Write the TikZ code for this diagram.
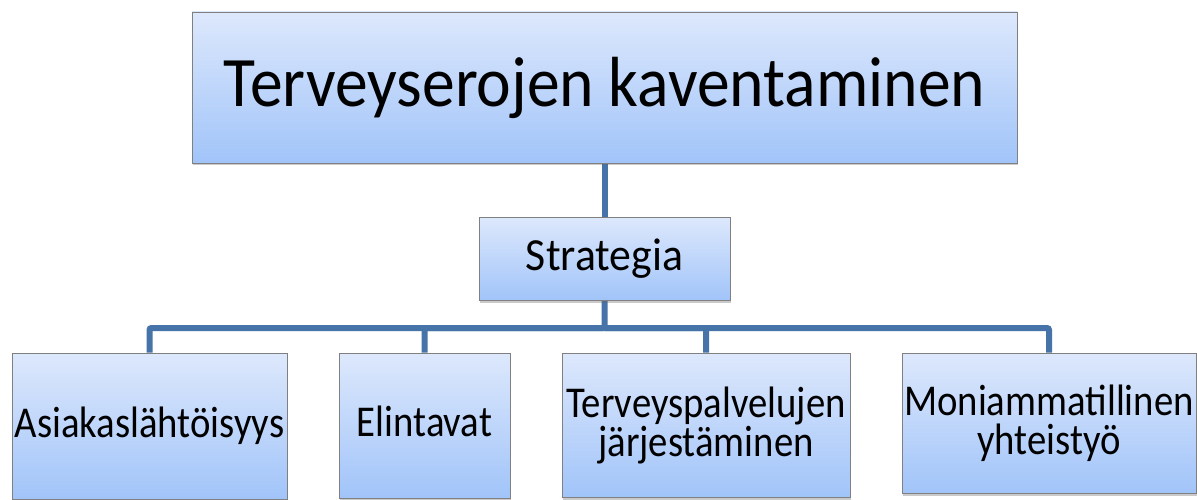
\documentclass[tikz,border=0pt]{standalone}
\usepackage{fontspec}
\setmainfont{Carlito}[FakeStretch=0.88]
\usetikzlibrary{shadows,backgrounds}
\definecolor{boxtop}{RGB}{221,232,252}
\definecolor{boxbot}{RGB}{161,196,249}
\definecolor{boxline}{RGB}{128,128,128}
\definecolor{linkblue}{RGB}{70,115,168}
\begin{document}
\begin{tikzpicture}[x=1pt,y=-1pt,
  box/.style={draw=boxline, line width=0.8pt, top color=boxtop, bottom color=boxbot,
    inner sep=0pt, align=center,
    drop shadow={shadow xshift=1pt, shadow yshift=-2.5pt, opacity=0.35, fill=black!60}},
  leaf/.style={box, font=\fontsize{44}{39}\selectfont},
  oneline/.style={text height=30pt, text depth=8pt},
  link/.style={draw=linkblue, line width=6pt, rounded corners=2pt}]
\useasboundingbox (0,0) rectangle (1197,500);

% goal, strategy and the four areas of action
\node[box, minimum width=825pt, minimum height=151pt, font=\fontsize{71}{80}\selectfont]
  (goal) at (604.5,87.5) {\scalebox{1.05}[1]{Terveyserojen kaventaminen}};
\node[box, minimum width=251pt, minimum height=83pt, font=\fontsize{46}{50}\selectfont]
  (strat) at (604.5,258.5) {\scalebox{1.08}[1]{Strategia}};
\node[leaf, oneline, minimum width=275pt, minimum height=146pt] (b1) at (149.5,426) {Asiakaslähtöisyys};
\node[leaf, oneline, minimum width=171pt, minimum height=145pt] (b2) at (424.5,425.5) {Elintavat};
\node[leaf, minimum width=288pt, minimum height=144pt] (b3) at (706,425) {Terveyspalvelujen\\järjestäminen};
\node[leaf, minimum width=294pt, minimum height=140pt] (b4) at (1049,423) {Moniammatillinen\\yhteistyö};

% branch bar
\coordinate (bar) at (0,328);

\begin{scope}[on background layer]
  \draw[link] (goal.south) -- (strat.north);
  \draw[link] (strat.south) -- (strat.south |- bar) -| (b1.north);
  \draw[link] (strat.south |- bar) -| (b2.north);
  \draw[link] (strat.south |- bar) -| (b3.north);
  \draw[link] (strat.south |- bar) -| (b4.north);
\end{scope}
\end{tikzpicture}
\end{document}
